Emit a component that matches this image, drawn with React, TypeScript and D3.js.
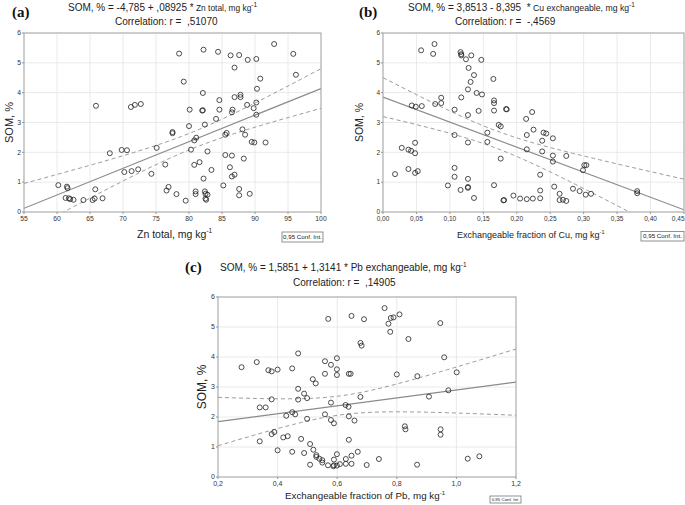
import React from "react";
import * as d3 from "d3";

type Pt = [number, number];

// Panel (a): Zn total vs SOM
const znSom: Pt[] = [
  [60.2,0.90],[61.5,0.85],[61.6,0.80],[61.3,0.47],[61.8,0.46],[62.0,0.43],[62.5,0.41],[64.0,0.40],
  [65.4,0.40],[65.7,0.45],[65.8,0.76],[66.9,0.46],[65.9,3.56],[68.0,1.97],[69.8,2.08],[70.6,2.07],
  [70.2,1.34],[71.3,1.37],[72.3,1.43],[71.2,3.52],[71.8,3.59],[72.7,3.62],[74.3,1.28],[75.1,2.15],
  [76.4,1.59],[76.6,0.72],[76.9,0.84],[77.5,2.64],[77.5,2.68],
  [78.5,5.31],[82.2,5.44],[84.4,5.37],[86.3,5.25],[87.6,5.26],[88.9,5.10],[90.2,5.13],[92.9,5.63],
  [95.8,5.30],[86.9,4.84],[79.2,4.37],[90.8,4.47],[96.2,4.60],[82.1,3.99],[90.3,4.13],[84.6,3.75],
  [86.9,3.85],[87.8,3.93],[87.8,3.85],[88.8,3.59],[90.2,3.67],[89.8,3.48],[80.1,3.43],[82.0,3.40],
  [82.1,3.41],[84.6,3.43],[86.6,3.43],[86.5,3.34],[84.1,3.12],[90.2,3.26],[80.0,2.88],[82.4,2.93],
  [81.1,2.49],[80.8,2.40],[85.7,2.65],[85.5,2.59],[88.1,2.77],[88.5,2.59],[89.5,2.35],[89.9,2.33],
  [91.6,2.33],[80.3,2.09],[82.8,2.03],[85.5,1.91],[86.5,1.89],[88.3,1.79],[80.8,1.58],[81.6,1.67],
  [83.4,1.41],[86.2,1.50],[86.5,1.19],[86.9,1.25],[82.2,1.12],[85.2,0.89],[87.6,0.77],[87.6,0.56],
  [89.2,0.61],[78.1,0.60],[79.5,0.38],[81.0,0.69],[81.0,0.60],[82.4,0.69],[82.5,0.61],[82.8,0.58],
  [82.5,0.45],[82.6,0.41]
];

// Panel (b): exchangeable Cu vs SOM
const cuSom: Pt[] = [
  [0.057,5.42],[0.077,5.63],[0.075,5.30],[0.116,5.36],[0.117,5.29],[0.117,5.25],[0.132,5.25],[0.124,5.12],
  [0.147,5.10],[0.128,4.83],[0.136,4.59],[0.131,4.36],[0.165,4.46],[0.127,4.11],[0.140,3.99],[0.148,3.94],
  [0.087,3.83],[0.117,3.84],[0.166,3.74],[0.166,3.65],[0.087,3.65],[0.078,3.62],[0.043,3.57],[0.049,3.53],
  [0.058,3.55],[0.107,3.43],[0.143,3.39],[0.166,3.40],[0.184,3.45],[0.185,3.44],[0.127,3.25],[0.173,2.92],
  [0.176,2.87],[0.107,2.58],[0.156,2.66],[0.156,2.35],[0.127,2.33],[0.048,2.32],[0.028,2.15],[0.038,2.09],
  [0.042,2.05],[0.048,1.97],[0.176,1.79],[0.038,1.44],[0.048,1.31],[0.052,1.37],[0.018,1.27],[0.107,1.48],
  [0.107,1.18],[0.127,1.11],[0.097,0.89],[0.127,0.84],[0.127,0.81],[0.116,0.74],[0.166,0.90],[0.136,0.47],
  [0.180,0.39],[0.181,0.40],[0.195,0.55],[0.205,0.45],[0.215,0.43],[0.224,0.45],[0.214,3.12],[0.223,3.35],
  [0.215,2.58],[0.225,2.76],[0.215,2.10],[0.240,2.66],[0.244,2.63],[0.238,2.39],[0.254,2.47],[0.238,2.03],
  [0.254,1.89],[0.254,1.69],[0.274,1.88],[0.235,1.25],[0.256,0.85],[0.235,0.72],[0.235,0.46],[0.264,0.61],
  [0.264,0.40],[0.269,0.41],[0.274,0.37],[0.284,0.78],[0.294,0.70],[0.303,0.58],[0.311,0.61],[0.299,1.40],
  [0.301,1.57],[0.304,1.57],[0.380,0.70],[0.380,0.63]
];

// Panel (c): exchangeable Pb vs SOM
const pbSom: Pt[] = [
  [0.279,3.66],[0.330,3.83],[0.369,3.56],[0.380,3.52],[0.400,3.58],[0.449,3.62],[0.469,4.12],[0.570,5.27],
  [0.648,5.37],[0.690,5.26],[0.678,4.47],[0.682,4.38],[0.559,3.86],[0.579,3.74],[0.599,3.96],[0.559,3.44],
  [0.599,3.59],[0.599,3.40],[0.639,3.44],[0.645,3.44],[0.518,3.26],[0.528,3.12],[0.469,2.94],[0.489,2.78],
  [0.499,2.63],[0.469,2.58],[0.380,2.59],[0.340,2.32],[0.360,2.32],[0.579,2.48],[0.628,2.40],[0.638,2.34],
  [0.678,2.67],[0.449,2.16],[0.459,2.09],[0.429,2.04],[0.499,1.94],[0.559,2.09],[0.579,1.90],[0.589,1.79],
  [0.639,2.02],[0.658,1.88],[0.389,1.50],[0.380,1.43],[0.340,1.19],[0.419,1.32],[0.434,1.36],[0.479,1.27],
  [0.509,1.10],[0.639,1.24],[0.400,0.89],[0.449,0.84],[0.489,0.80],[0.520,0.91],[0.530,0.73],[0.530,0.67],
  [0.540,0.61],[0.550,0.56],[0.550,0.48],[0.509,0.41],[0.569,0.39],[0.589,0.58],[0.589,0.39],[0.587,0.36],
  [0.599,0.76],[0.599,0.38],[0.609,0.43],[0.629,0.60],[0.629,0.44],[0.648,0.71],[0.648,0.44],[0.669,0.84],
  [0.759,5.63],[0.780,5.30],[0.789,5.32],[0.772,5.11],[0.809,5.42],[0.778,4.84],[0.839,4.60],[0.946,5.13],
  [0.959,3.99],[0.800,3.42],[0.869,3.36],[1.001,3.49],[0.973,2.89],[0.908,2.68],[0.827,1.69],[0.829,1.59],
  [0.947,1.59],[0.947,1.41],[0.740,0.60],[0.699,0.40],[0.868,0.41],[1.038,0.61],[1.077,0.69]
];

// Regression coefficients shown in the titles [intercept, slope]
const fitZn: [number, number] = [-4.785, 0.08925];
const fitCu: [number, number] = [3.8513, -8.395];
const fitPb: [number, number] = [1.5851, 1.3141];

const somTicks = [0, 1, 2, 3, 4, 5, 6];
const znTicks = [55, 60, 65, 70, 75, 80, 85, 90, 95, 100];
const cuTicks = [0, 0.05, 0.1, 0.15, 0.2, 0.25, 0.3, 0.35, 0.4, 0.45];
const pbTicks = [0.2, 0.4, 0.6, 0.8, 1.0, 1.2];

const FONT = "'Liberation Sans', Arial, Helvetica, sans-serif";
const SERIF = "'Liberation Serif', 'Times New Roman', serif";

type PanelProps = {
  id: string;
  box: { l: number; t: number; r: number; b: number };
  xDomain: [number, number];
  xTicks: number[];
  xFmt: (v: number) => string;
  pts: Pt[];
  fit: [number, number];
  tag: string; tagX: number; tagY: number;
  titleX: number; titleY: number;
  titleMain: string; titleVar: string; titleVarSize: number;
  corrX: number; corrY: number; corrText: string;
  xLabel: string; xLabelX: number; xLabelY: number; xLabelSize: number;
  yLabelX: number; yLabelSize: number;
  conf: { x: number; y: number; w: number; h: number; fs: number };
  tickFs: number;
  lastTickEnd?: boolean;
};

function Panel(p: PanelProps) {
  const { l, t, r, b } = p.box;
  const x = d3.scaleLinear().domain(p.xDomain).range([l, r]);
  const y = d3.scaleLinear().domain([0, 6]).range([b, t]);
  const [a0, a1] = p.fit;
  const n = p.pts.length;
  const mx = d3.mean(p.pts, (d) => d[0]) as number;
  const sxx = d3.sum(p.pts, (d) => (d[0] - mx) ** 2);
  const sse = d3.sum(p.pts, (d) => (d[1] - (a0 + a1 * d[0])) ** 2);
  const s = Math.sqrt(sse / (n - 2));
  const tc = 1.96 + 2.4 / (n - 2);
  const xs = d3.range(0, 101).map((i) => p.xDomain[0] + ((p.xDomain[1] - p.xDomain[0]) * i) / 100);
  const hw = (v: number) => tc * s * Math.sqrt(1 / n + (v - mx) ** 2 / sxx);
  const line = d3.line<Pt>().x((d) => x(d[0])).y((d) => y(d[1]));
  const fitPts: Pt[] = p.xDomain.map((v) => [v, a0 + a1 * v] as Pt);
  const up: Pt[] = xs.map((v) => [v, a0 + a1 * v + hw(v)]);
  const lo: Pt[] = xs.map((v) => [v, a0 + a1 * v - hw(v)]);
  const clipId = `clip-${p.id}`;
  return (
    <g>
      <defs>
        <clipPath id={clipId}>
          <rect x={l} y={t} width={r - l} height={b - t} />
        </clipPath>
      </defs>
      {p.xTicks.map((v, i) => (
        <line key={"gx" + i} x1={x(v)} x2={x(v)} y1={t} y2={b} stroke="#e4e4e4" strokeWidth={0.8} />
      ))}
      {somTicks.map((v, i) => (
        <line key={"gy" + i} x1={l} x2={r} y1={y(v)} y2={y(v)} stroke="#e4e4e4" strokeWidth={0.8} />
      ))}
      {p.xTicks.map((v, i) => {
        const isLast = i === p.xTicks.length - 1 && p.lastTickEnd;
        return (
          <g key={"tx" + i}>
            <line x1={x(v)} x2={x(v)} y1={b} y2={b + 2} stroke="#777" strokeWidth={0.8} />
            <text
              x={isLast ? x(v) + 0.5 : x(v)}
              y={b + 8.5}
              fontSize={p.tickFs}
              textAnchor={isLast ? "end" : "middle"}
              fontFamily={FONT}
              fill="#333"
            >
              {p.xFmt(v)}
            </text>
          </g>
        );
      })}
      {somTicks.map((v, i) => (
        <g key={"ty" + i}>
          <line x1={l - 2} x2={l} y1={y(v)} y2={y(v)} stroke="#777" strokeWidth={0.8} />
          <text x={l - 3} y={y(v) + 2.3} fontSize={p.tickFs} textAnchor="end" fontFamily={FONT} fill="#333">
            {v}
          </text>
        </g>
      ))}
      <g clipPath={`url(#${clipId})`}>
        <path d={line(fitPts) || ""} fill="none" stroke="#8a8a8a" strokeWidth={1.2} />
        <path d={line(up) || ""} fill="none" stroke="#9a9a9a" strokeWidth={1} strokeDasharray="4 3" />
        <path d={line(lo) || ""} fill="none" stroke="#9a9a9a" strokeWidth={1} strokeDasharray="4 3" />
      </g>
      {p.pts.map((d, i) => (
        <circle key={"p" + i} cx={x(d[0])} cy={y(d[1])} r={2.5} fill="none" stroke="#222" strokeWidth={0.8} />
      ))}
      <rect x={l} y={t} width={r - l} height={b - t} fill="none" stroke="#a6a6a6" strokeWidth={1} />
      <text x={p.tagX} y={p.tagY} fontFamily={SERIF} fontWeight="bold" fontSize={15} fill="#111">
        {p.tag}
      </text>
      <text x={p.titleX} y={p.titleY} fontFamily={FONT} fontSize={10} fill="#222" style={{ whiteSpace: "pre" }}>
        {p.titleMain}
        <tspan fontSize={p.titleVarSize}>{p.titleVar}</tspan>
        <tspan fontSize={6.5} dy={-4}>-1</tspan>
      </text>
      <text x={p.corrX} y={p.corrY} fontFamily={FONT} fontSize={10} fill="#222" style={{ whiteSpace: "pre" }}>
        {p.corrText}
      </text>
      <text x={p.xLabelX} y={p.xLabelY} fontFamily={FONT} fontSize={p.xLabelSize} fill="#222">
        {p.xLabel}
        <tspan fontSize={p.xLabelSize * 0.62} dy={-p.xLabelSize * 0.45}>-1</tspan>
      </text>
      <text
        transform={`translate(${p.yLabelX},${(t + b) / 2}) rotate(-90)`}
        textAnchor="middle"
        fontFamily={FONT}
        fontSize={p.yLabelSize}
        fill="#222"
      >
        SOM, %
      </text>
      <rect x={p.conf.x} y={p.conf.y} width={p.conf.w} height={p.conf.h} fill="#fff" stroke="#777" strokeWidth={0.8} />
      <text
        x={p.conf.x + p.conf.w / 2}
        y={p.conf.y + p.conf.h / 2 + p.conf.fs * 0.36}
        textAnchor="middle"
        fontFamily={FONT}
        fontSize={p.conf.fs}
        fill="#222"
      >
        0,95 Conf. Int.
      </text>
    </g>
  );
}

const fmtComma = (digits: number) => (v: number) => v.toFixed(digits).replace(".", ",");

export default function App() {
  return (
    <svg width={685} height={505} style={{ position: "absolute", left: 0, top: 0, background: "#fff" }}>
      <rect x={0} y={0} width={685} height={505} fill="#fff" />
      <Panel
        id="a"
        box={{ l: 24, t: 33, r: 321, b: 212 }}
        xDomain={[55, 100]}
        xTicks={znTicks}
        xFmt={(v) => String(v)}
        pts={znSom}
        fit={fitZn}
        tag="(a)" tagX={12} tagY={17}
        titleX={68} titleY={11}
        titleMain="SOM, % = -4,785 + ,08925 *"
        titleVar=" Zn total, mg kg"
        titleVarSize={8.4}
        corrX={115} corrY={25} corrText="Correlation: r =  ,51070"
        xLabel="Zn total, mg kg" xLabelX={137} xLabelY={238} xLabelSize={10.5}
        yLabelX={13} yLabelSize={11}
        conf={{ x: 282, y: 232, w: 41, h: 10, fs: 6.2 }}
        tickFs={6.8}
      />
      <Panel
        id="b"
        box={{ l: 383, t: 33, r: 684, b: 212 }}
        xDomain={[0, 0.45]}
        xTicks={cuTicks}
        xFmt={fmtComma(2)}
        pts={cuSom}
        fit={fitCu}
        tag="(b)" tagX={359} tagY={17}
        titleX={408} titleY={11}
        titleMain="SOM, % = 3,8513 - 8,395  *"
        titleVar=" Cu exchangeable, mg kg"
        titleVarSize={8.7}
        corrX={455} corrY={25} corrText="Correlation: r =  -,4569"
        xLabel="Exchangeable fraction of Cu, mg kg" xLabelX={457} xLabelY={238} xLabelSize={9}
        yLabelX={363} yLabelSize={10.5}
        conf={{ x: 641, y: 231.5, w: 43, h: 9.5, fs: 6.2 }}
        tickFs={6.5}
        lastTickEnd
      />
      <Panel
        id="c"
        box={{ l: 218, t: 297, r: 516, b: 477 }}
        xDomain={[0.2, 1.2]}
        xTicks={pbTicks}
        xFmt={fmtComma(1)}
        pts={pbSom}
        fit={fitPb}
        tag="(c)" tagX={185} tagY={272}
        titleX={220} titleY={271}
        titleMain="SOM, % = 1,5851 + 1,3141 *"
        titleVar=" Pb exchangeable, mg kg"
        titleVarSize={10}
        corrX={293} corrY={286} corrText="Correlation: r =  ,14905"
        xLabel="Exchangeable fraction of Pb, mg kg" xLabelX={285} xLabelY={499} xLabelSize={9.8}
        yLabelX={206} yLabelSize={12}
        conf={{ x: 490, y: 496, w: 31, h: 7, fs: 4.4 }}
        tickFs={7}
      />
    </svg>
  );
}
